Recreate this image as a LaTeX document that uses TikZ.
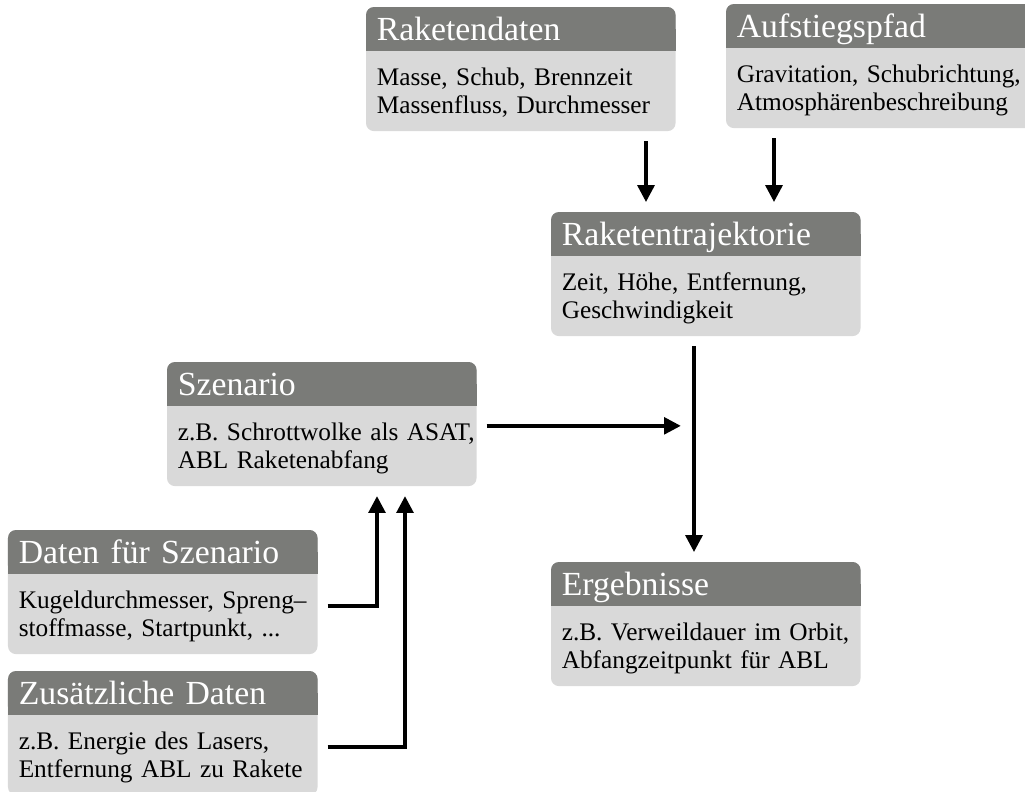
\documentclass[tikz,border=0pt]{standalone}
\usepackage{fontspec}
\setmainfont{Liberation Serif}
\usetikzlibrary{positioning, arrows.meta, backgrounds}

\definecolor{kopfgrau}{RGB}{122,123,120}
\definecolor{inhaltgrau}{RGB}{217,217,217}

\tikzset{
  kopf/.style={anchor=north west, text=white, font=\fontsize{24}{26}\selectfont,
    text width=7.2cm, inner xsep=0.2625cm, inner ysep=0pt,
    text height=0.825cm, text depth=0.25cm, align=left},
  inhalt/.style={font=\fontsize{18}{19.9}\selectfont,
    text width=7.2cm, inner xsep=0.2625cm, inner ysep=0pt,
    text height=0.875cm, text depth=1.125cm, align=left},
  pfeil/.style={-{Triangle[length=0.42cm,width=0.42cm]}, line width=2.4pt,
    shorten <=0.25cm, shorten >=0.25cm}
}

\begin{document}
\begin{tikzpicture}

\useasboundingbox (0,0) rectangle (25.625,-19.8);

\node[kopf] (rd-k) at (9.15,-0.175) {Raketendaten};
\node[inhalt, below=0pt of rd-k] (rd-i) {Masse, Schub, Brennzeit\\Massenfluss, Durchmesser};

\node[kopf] (ap-k) at (18.15,-0.1) {Aufstiegspfad};
\node[inhalt, below=0pt of ap-k] (ap-i) {Gravitation, Schubrichtung,\\Atmosphärenbeschreibung};

\node[kopf] (rt-k) at (13.775,-5.3) {Raketentrajektorie};
\node[inhalt, below=0pt of rt-k] (rt-i) {Zeit, Höhe, Entfernung,\\Geschwindigkeit};

\node[kopf] (sz-k) at (4.175,-9.05) {Szenario};
\node[inhalt, below=0pt of sz-k] (sz-i) {\mbox{z.B. Schrottwolke als ASAT,}\\ABL Raketenabfang};

\node[kopf] (ds-k) at (0.2,-13.25) {Daten für Szenario};
\node[inhalt, below=0pt of ds-k] (ds-i) {Kugeldurchmesser, Spreng–\\stoffmasse, Startpunkt, ...};

\node[kopf] (er-k) at (13.775,-14.05) {Ergebnisse};
\node[inhalt, below=0pt of er-k] (er-i) {z.B. Verweildauer im Orbit,\\Abfangzeitpunkt für ABL};

\node[kopf] (zd-k) at (0.2,-16.775) {Zusätzliche Daten};
\node[inhalt, below=0pt of zd-k] (zd-i) {z.B. Energie des Lasers,\\Entfernung ABL zu Rakete};

\begin{scope}[on background layer]
\foreach \n in {rd,ap,rt,sz,ds,er,zd} {
  \fill[inhaltgrau, rounded corners=0.2cm] (\n-k.north west) rectangle (\n-i.south east);
  \fill[kopfgrau, rounded corners=0.2cm] (\n-k.north west) rectangle (\n-k.south east);
  \fill[kopfgrau] (\n-k.west) rectangle (\n-k.south east);
}
\end{scope}

\coordinate (x1) at (16.15,0);
\coordinate (x2) at (19.35,0);
\coordinate (x3) at (17.35,0);
\coordinate (x5) at (9.425,0);
\coordinate (x6) at (10.125,0);

\draw[pfeil] (rd-i.south -| x1) -- (rt-k.north -| x1);
\draw[pfeil] (ap-i.south -| x2) -- (rt-k.north -| x2);
\draw[pfeil] (rt-i.south -| x3) -- (er-k.north -| x3);
\draw[pfeil, shorten >=0.33cm] ([yshift=0.5cm]sz-i.east) -- ([yshift=0.5cm]sz-i.east -| x3);
\draw[pfeil] ([yshift=0.2cm]ds-i.east) -| (sz-i.south -| x5);
\draw[pfeil] ([yshift=0.2cm]zd-i.east) -| (sz-i.south -| x6);

\end{tikzpicture}
\end{document}
